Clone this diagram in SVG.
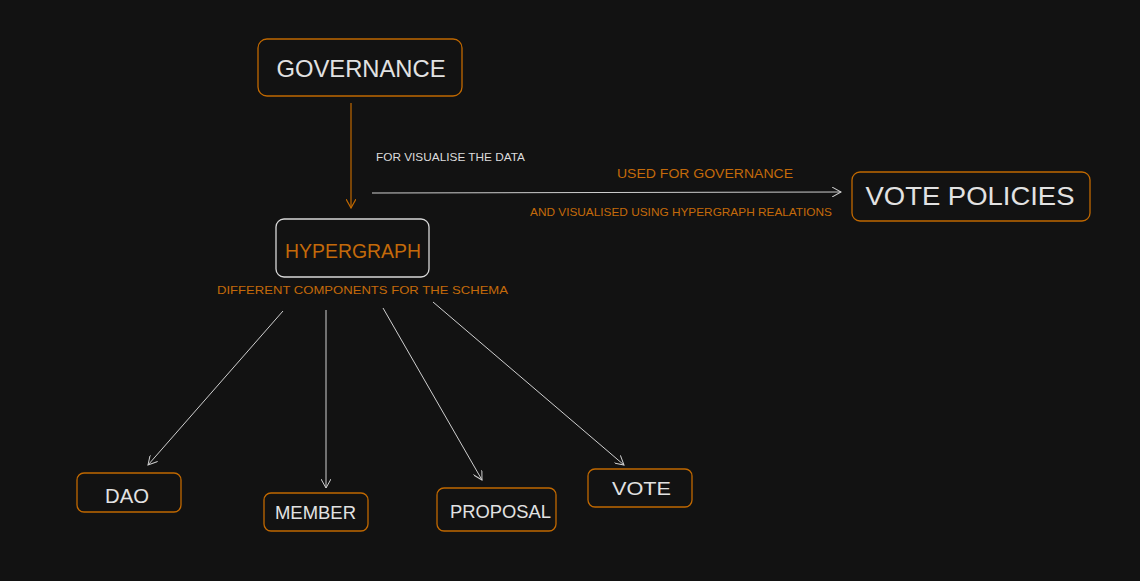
<svg xmlns="http://www.w3.org/2000/svg" width="1140" height="581" viewBox="0 0 1140 581">
<style>
.box{fill:#121212;stroke:#c06800;stroke-width:1.3}
.boxw{fill:#121212;stroke:#d8d8d8;stroke-width:1.3}
.t{font-family:"Liberation Sans",Arial,sans-serif;fill:#e2e2e2;text-anchor:middle}
.o{font-family:"Liberation Sans",Arial,sans-serif;fill:#c46a0a}
.lbl{font-family:"Liberation Sans",Arial,sans-serif;fill:#dcdcdc}
.cw{stroke:#cfcfcf;stroke-width:1;fill:none}
.co{stroke:#c06800;stroke-width:1.2;fill:none}
</style>
<defs>
<marker id="aw" viewBox="0 0 10 10" refX="9" refY="5" markerWidth="10" markerHeight="10" markerUnits="userSpaceOnUse" orient="auto"><path d="M0,0 L9,5 L0,10" fill="none" stroke="#cfcfcf" stroke-width="1"/></marker>
<marker id="ao" viewBox="0 0 10 10" refX="9" refY="5" markerWidth="10" markerHeight="10" markerUnits="userSpaceOnUse" orient="auto"><path d="M0,0 L9,5 L0,10" fill="none" stroke="#c06800" stroke-width="1.2"/></marker>
</defs>
<rect width="1140" height="581" fill="#121212"/>
<g id="connectors">
<line class="co" x1="351" y1="103" x2="351" y2="208" marker-end="url(#ao)"/>
<line class="cw" x1="372" y1="193" x2="841" y2="192" stroke-width="1.6" marker-end="url(#aw)"/>
<line class="cw" x1="283" y1="311" x2="148" y2="465" marker-end="url(#aw)"/>
<line class="cw" x1="326" y1="310" x2="326" y2="488" marker-end="url(#aw)"/>
<line class="cw" x1="383" y1="308" x2="482" y2="480" marker-end="url(#aw)"/>
<line class="cw" x1="433" y1="302" x2="624" y2="465" marker-end="url(#aw)"/>
<text class="lbl" x="376" y="161" font-size="11" textLength="149" lengthAdjust="spacingAndGlyphs">FOR VISUALISE THE DATA</text>
<text class="o" x="617" y="178" font-size="12.5" textLength="176" lengthAdjust="spacingAndGlyphs">USED FOR GOVERNANCE</text>
<text class="o" x="530" y="216" font-size="11" textLength="302" lengthAdjust="spacingAndGlyphs">AND VISUALISED USING HYPERGRAPH REALATIONS</text>
</g>
<g id="governance">
<rect class="box" x="258" y="39" width="204" height="57" rx="9"/>
<text class="t" x="361" y="77" font-size="24" textLength="169" lengthAdjust="spacingAndGlyphs">GOVERNANCE</text>
</g>
<g id="vote-policies">
<rect class="box" x="852" y="172" width="238" height="49" rx="8"/>
<text class="t" x="970" y="205" font-size="25" textLength="209" lengthAdjust="spacingAndGlyphs">VOTE POLICIES</text>
</g>
<g id="hypergraph">
<rect class="boxw" x="276" y="219" width="153" height="58" rx="8"/>
<text class="o" x="353" y="258" font-size="20.5" text-anchor="middle" textLength="136" lengthAdjust="spacingAndGlyphs">HYPERGRAPH</text>
<text class="o" x="217" y="294" font-size="11" textLength="291" lengthAdjust="spacingAndGlyphs">DIFFERENT COMPONENTS FOR THE SCHEMA</text>
</g>
<g id="dao">
<rect class="box" x="77" y="473" width="104" height="39" rx="7"/>
<text class="t" x="127" y="503" font-size="21" textLength="44" lengthAdjust="spacingAndGlyphs">DAO</text>
</g>
<g id="member">
<rect class="box" x="264" y="493" width="104" height="38" rx="7"/>
<text class="t" x="315.5" y="519" font-size="19" textLength="81" lengthAdjust="spacingAndGlyphs">MEMBER</text>
</g>
<g id="proposal">
<rect class="box" x="437" y="488" width="119" height="43" rx="7"/>
<text class="t" x="500.5" y="518" font-size="19" textLength="101" lengthAdjust="spacingAndGlyphs">PROPOSAL</text>
</g>
<g id="vote">
<rect class="box" x="588" y="469" width="104" height="38" rx="7"/>
<text class="t" x="641.5" y="495" font-size="19" textLength="59" lengthAdjust="spacingAndGlyphs">VOTE</text>
</g>
</svg>
